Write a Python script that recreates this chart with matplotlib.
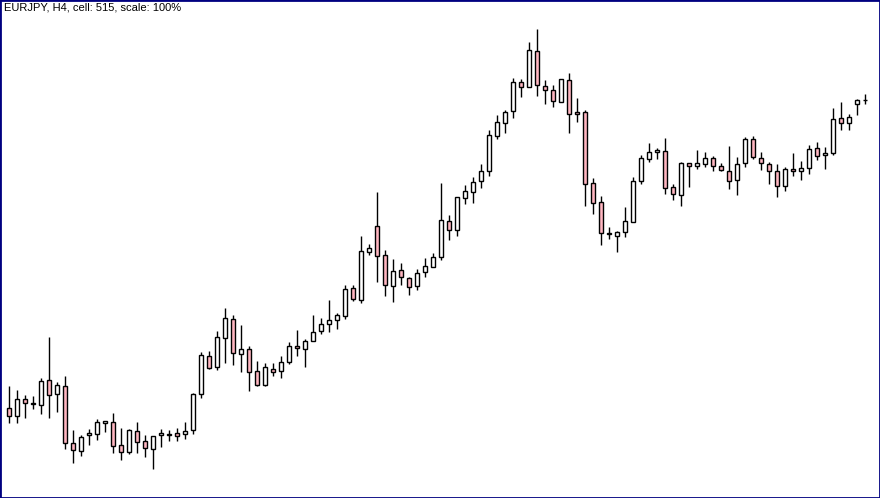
import numpy as np
import matplotlib
matplotlib.use("Agg")
import matplotlib.pyplot as plt

title = "EURJPY, H4, cell: 515, scale: 100%"

# OHLC values (relative price units)
opens = [90, 82, 99, 94, 93, 118, 104, 112, 55, 47, 63, 64, 75, 76, 53, 46, 67, 57, 49, 63,
         63.5, 65, 64, 68, 104, 142, 131, 160, 179, 144, 149, 127, 113, 129, 127, 136, 152, 149, 157, 167,
         174, 178, 182, 210, 198, 246, 272, 243, 212, 228, 220, 212, 226, 231, 241, 277, 268, 300, 306, 317,
         327, 362, 375, 387, 416, 411, 447, 412, 408, 396, 418, 386, 386, 315, 296, 264.5, 262, 266, 276, 317,
         339, 346, 347, 311, 303, 335, 332, 334, 340, 332, 327, 318, 335, 359, 340, 334, 327, 312, 329, 327,
         330, 350, 343, 345, 380, 375, 394, 398]
highs = [112, 108, 103, 102, 120, 161, 116, 122, 68, 63, 69, 79, 77, 85, 70, 69, 76, 63, 62, 69,
         68, 70, 76, 105, 146, 147, 167, 190, 183, 173, 152, 137, 135, 135, 142, 156, 168, 159, 183, 180,
         198, 185, 213, 213, 262, 254, 306, 248, 239, 235, 221, 229, 240, 245, 315, 283, 301, 313, 321, 334,
         368, 383, 388, 420, 419, 456, 469, 418, 413, 419, 425, 400, 388, 320, 302, 271, 267, 291, 321, 343,
         355, 350, 360, 314, 336, 335, 348, 346, 342, 335, 352, 341, 361, 362, 346, 336, 334, 331, 345, 337,
         353, 356, 351, 390, 396, 384, 399, 404]
lows = [75, 75, 80, 89, 84, 80, 86, 49, 35, 42, 53, 58, 66, 45, 38, 44, 45, 41, 29, 51,
        57, 57, 59, 64, 100, 129, 128, 135, 133, 126, 107, 112, 112, 122, 120, 134, 142, 131, 157, 164,
        166, 169, 179, 197, 195, 243, 216, 202, 196, 213, 203, 208, 221, 231, 238, 258, 262, 294, 295, 310,
        322, 359, 365, 380, 401, 411, 402, 394, 391, 396, 365, 376, 292, 284, 253, 259, 246, 261, 276, 314,
        336, 339, 304, 298, 292, 311, 329, 331, 327, 327, 309, 303, 331, 339, 328, 314, 301, 307, 322, 318,
        324, 338, 329, 343, 368, 368, 383, 394]
closes = [82, 99, 95, 95, 117, 103, 113, 55, 48, 61, 65, 76, 77, 52, 46, 68, 56, 50, 62, 65,
          64.5, 62, 67, 104, 143, 130, 161, 180, 145, 149, 126, 113, 131, 126, 136, 152, 150, 157, 166, 174,
          178, 183, 209, 199, 247, 250, 242, 213, 227, 221, 211, 225, 232, 241, 278, 268, 301, 307, 316, 327,
          363, 376, 386, 416, 411, 448, 413, 408, 397, 419, 384, 384, 314, 295, 265, 265, 266, 277, 317, 340,
          346, 348, 310, 304, 335, 332, 335, 340, 332, 328, 317, 334, 359, 341, 335, 327, 312, 329, 327, 330,
          349, 342, 345, 379, 375, 381, 398, 398]

o = np.array(opens, dtype=float)
h = np.array(highs, dtype=float)
l = np.array(lows, dtype=float)
c = np.array(closes, dtype=float)
x = np.arange(len(o))

up = c >= o
colors = np.where(up, "white", "#ffb6c1")
bottoms = np.minimum(o, c)
heights = np.abs(c - o)

fig = plt.figure(figsize=(8.8, 4.98), dpi=100)
ax = fig.add_axes([0, 0, 1, 1])

# wicks then bodies
ax.vlines(x, l, h, color="black", linewidth=1.0, zorder=1)
ax.bar(x, heights, bottom=bottoms, width=0.6, color=colors,
       edgecolor="black", linewidth=1.0, zorder=2)

ax.set_xlim(-1.125, 108.875)
ax.set_ylim(0, 498)
ax.set_xticks([])
ax.set_yticks([])
for s in ax.spines.values():
    s.set_color("#000080")
    s.set_linewidth(2)

# caption in the top-left corner
fig.text(4 / 880, 1 - 3 / 498, title, fontsize=8, family="Liberation Sans",
         color="black", ha="left", va="top")

fig.savefig("out.png", dpi=100)
